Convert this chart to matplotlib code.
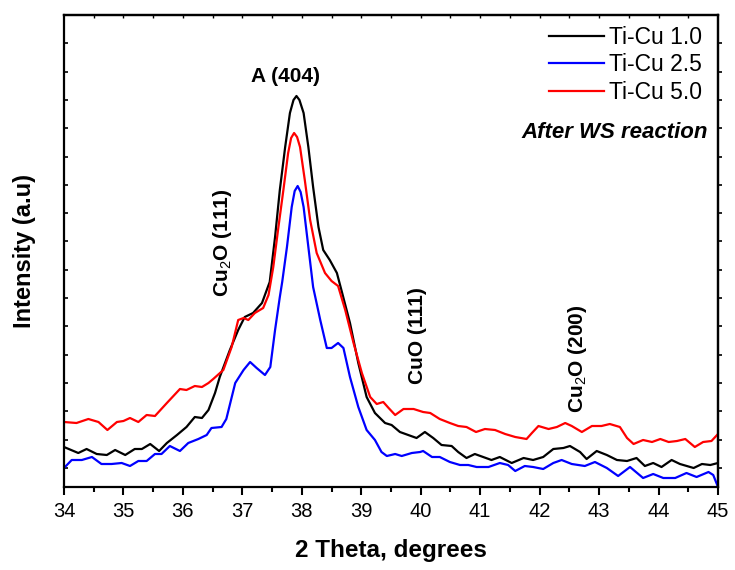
"""
XRD patterns of Ti-Cu samples after the WS reaction (34-45 deg window).
"""

import numpy as np
import matplotlib
matplotlib.use('Agg')
import matplotlib.pyplot as plt


# Data (arbitrary intensity units)

theta_tc10 = [34.00, 34.24, 34.38, 34.55, 34.72, 34.86, 35.03, 35.19, 35.31, 35.45,
              35.60, 35.73, 35.90, 36.06, 36.20, 36.32, 36.43, 36.54, 36.62, 36.79,
              36.93, 37.04, 37.18, 37.33, 37.41, 37.46, 37.55, 37.63, 37.72, 37.80,
              37.86, 37.91, 37.96, 38.03, 38.11, 38.19, 38.28, 38.36, 38.47, 38.59,
              38.67, 38.81, 38.95, 39.09, 39.23, 39.40, 39.51, 39.65, 39.79, 39.93,
              40.07, 40.21, 40.35, 40.52, 40.63, 40.77, 40.91, 41.05, 41.19, 41.33,
              41.53, 41.73, 41.89, 42.06, 42.23, 42.40, 42.51, 42.68, 42.79, 42.96,
              43.13, 43.30, 43.47, 43.63, 43.77, 43.91, 44.05, 44.22, 44.36, 44.59,
              44.73, 44.87, 45.00]
int_tc10 = [40, 34, 38, 33, 32, 37, 32, 38, 38, 43,
            36, 44, 52, 60, 70, 69, 77, 94, 110, 137,
            157, 170, 174, 184, 197, 205, 250, 297, 340, 374,
            387, 391, 387, 374, 340, 300, 260, 237, 227, 214,
            196, 164, 124, 90, 74, 64, 62, 55, 52, 49,
            55, 49, 42, 41, 35, 29, 33, 30, 27, 30,
            24, 29, 27, 30, 38, 39, 41, 35, 28, 36,
            32, 27, 26, 29, 21, 24, 20, 27, 23, 19,
            23, 22, 24]

theta_tc25 = [34.00, 34.13, 34.30, 34.47, 34.63, 34.80, 34.97, 35.11, 35.25, 35.39,
              35.53, 35.64, 35.78, 35.95, 36.09, 36.26, 36.40, 36.48, 36.65, 36.73,
              36.88, 37.02, 37.13, 37.24, 37.38, 37.47, 37.55, 37.63, 37.67, 37.75,
              37.83, 37.88, 37.93, 37.98, 38.03, 38.11, 38.19, 38.31, 38.42, 38.50,
              38.61, 38.70, 38.81, 38.95, 39.09, 39.23, 39.34, 39.43, 39.57, 39.68,
              39.85, 39.99, 40.04, 40.19, 40.32, 40.49, 40.66, 40.80, 40.94, 41.14,
              41.33, 41.47, 41.59, 41.75, 41.89, 42.06, 42.23, 42.37, 42.54, 42.76,
              42.93, 43.13, 43.32, 43.52, 43.74, 43.91, 44.08, 44.28, 44.47, 44.64,
              44.84, 44.92, 45.00]
int_tc25 = [19, 27, 27, 30, 23, 23, 24, 21, 26, 26,
            33, 33, 41, 36, 44, 48, 52, 59, 60, 68,
            104, 117, 125, 119, 112, 120, 157, 190, 205, 240,
            280, 296, 301, 295, 280, 240, 200, 167, 139, 139,
            144, 139, 110, 80, 57, 47, 35, 31, 33, 31,
            34, 35, 36, 30, 30, 25, 22, 22, 20, 20,
            24, 22, 16, 21, 20, 18, 24, 27, 23, 21,
            25, 19, 11, 20, 9, 13, 9, 9, 14, 10,
            15, 12, 0]

theta_tc50 = [34.00, 34.21, 34.41, 34.58, 34.73, 34.89, 35.00, 35.11, 35.25, 35.39,
              35.53, 35.73, 35.95, 36.06, 36.20, 36.32, 36.43, 36.51, 36.68, 36.82,
              36.93, 37.02, 37.10, 37.21, 37.35, 37.44, 37.52, 37.60, 37.69, 37.77,
              37.82, 37.87, 37.92, 37.97, 38.05, 38.14, 38.25, 38.39, 38.50, 38.61,
              38.73, 38.87, 39.01, 39.15, 39.26, 39.37, 39.46, 39.57, 39.71, 39.88,
              40.04, 40.16, 40.32, 40.49, 40.63, 40.77, 40.93, 41.08, 41.25, 41.42,
              41.59, 41.78, 41.87, 41.98, 42.15, 42.29, 42.43, 42.54, 42.71, 42.88,
              43.04, 43.18, 43.35, 43.47, 43.58, 43.74, 43.89, 44.03, 44.17, 44.31,
              44.45, 44.61, 44.75, 44.89, 45.00]
int_tc50 = [65, 64, 68, 65, 57, 65, 66, 69, 65, 72,
            71, 84, 98, 97, 101, 100, 104, 108, 117, 140,
            167, 169, 167, 174, 179, 192, 220, 257, 297, 334,
            349, 354, 350, 340, 307, 267, 234, 214, 206, 201,
            177, 144, 114, 90, 83, 85, 79, 72, 78, 78,
            75, 74, 68, 64, 61, 60, 55, 58, 57, 53,
            50, 48, 54, 61, 58, 60, 64, 61, 55, 61,
            61, 63, 60, 49, 43, 47, 45, 48, 45, 46,
            48, 40, 45, 46, 53]

series_labels = ['Ti-Cu 1.0', 'Ti-Cu 2.5', 'Ti-Cu 5.0']
series_colors = ['black', 'blue', 'red']

peak_labels = ['A (404)', r'Cu$_2$O (111)', 'CuO (111)', r'Cu$_2$O (200)']
peak_pos = [(37.72, 410), (36.67, 244), (39.95, 151), (42.63, 128)]
peak_rot = [0, 90, 90, 90]


# Plot

plt.rcParams['font.family'] = 'Liberation Sans'
plt.rcParams['mathtext.fontset'] = 'custom'
plt.rcParams['mathtext.rm'] = 'Liberation Sans'
plt.rcParams['mathtext.bf'] = 'Liberation Sans:bold'

fig = plt.figure(figsize=[7.35, 5.70], dpi=100)
ax = fig.add_axes([64 / 735, 1 - 487 / 570, 654 / 735, 472 / 570])

all_theta = [theta_tc10, theta_tc25, theta_tc50]
all_int = [int_tc10, int_tc25, int_tc50]
for theta, inten, label, color in zip(all_theta, all_int, series_labels, series_colors):
    ax.plot(theta, inten, color=color, lw=1.6, label=label)

ax.set_xlim(34, 45)
ax.set_ylim(0, 472)

for text, pos, rot in zip(peak_labels, peak_pos, peak_rot):
    ax.text(pos[0], pos[1], text, rotation=rot, ha='center', va='center',
            fontsize=15, fontweight='bold')

ax.text(0.985, 0.752, 'After WS reaction', transform=ax.transAxes, ha='right',
        va='center', fontsize=16, fontweight='bold', style='italic')

leg = ax.legend(loc='upper right', frameon=False, fontsize=16.5, handlelength=2.4,
                handletextpad=0.22, labelspacing=0.19, borderaxespad=0.0,
                borderpad=0.0, bbox_to_anchor=(0.9755, 0.977))

# ticks: bottom out, left in, top in (minor style), right out
yt = np.arange(472, 0, -28.3)[1:]
ax.set_xticks(np.arange(34, 46, 1))
ax.set_xticks(np.arange(34.5, 45, 1), minor=True)
ax.set_yticks(yt)
ax.set_yticklabels([])
ax.tick_params(axis='x', which='major', direction='out', length=6, width=1.5,
               labelsize=14.5, pad=5)
ax.tick_params(axis='x', which='minor', direction='out', length=3.5, width=1.5)
ax.tick_params(axis='y', which='major', direction='in', length=3, width=1.2)

top = ax.secondary_xaxis('top')
top.set_xticks(np.arange(34.5, 45, 0.5))
top.tick_params(direction='in', length=2.5, width=1.0, labeltop=False)
right = ax.secondary_yaxis('right')
right.set_yticks(yt)
right.tick_params(direction='out', length=3, width=1.2, labelright=False)

for spine in list(ax.spines.values()) + [top.spines['top'], right.spines['right']]:
    spine.set_linewidth(1.6)

ax.set_xlabel('2 Theta, degrees', fontsize=17.5, fontweight='bold', labelpad=13)
ax.set_ylabel('Intensity (a.u)', fontsize=17, fontweight='bold', labelpad=17)

plt.savefig('out.png', dpi=100)
